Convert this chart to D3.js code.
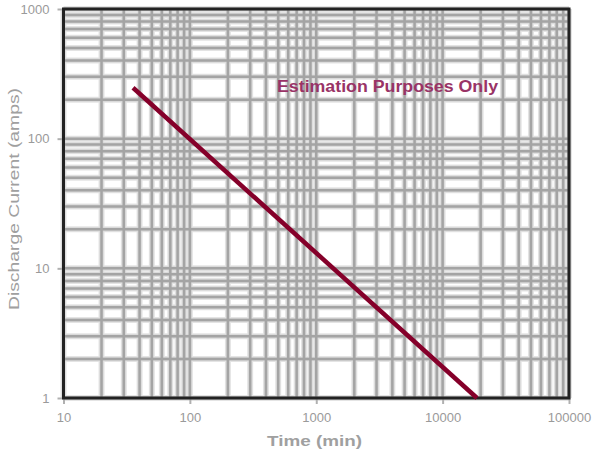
<!DOCTYPE html>
<html>
<head>
<meta charset="utf-8">
<script src="https://cdn.jsdelivr.net/npm/d3@7"></script>
<style>
html,body{margin:0;padding:0;background:#fff;}
svg{display:block;font-family:"Liberation Sans",Arial,sans-serif;}
</style>
</head>
<body>
<svg id="chart" width="592" height="450"></svg>
<script>
// ---- data ----
const timeMin = [35.5, 18700];      // minutes
const currentAmps = [247, 1];       // amps
const xTickValues = [10, 100, 1000, 10000, 100000];
const yTickValues = [1, 10, 100, 1000];
const xDomain = [10, 100000];
const yDomain = [1, 1000];
const annotation = "Estimation Purposes Only";
const xTitle = "Time (min)";
const yTitle = "Discharge Current (amps)";

// ---- layout ----
const svg = d3.select("#chart");
const L = 63.5, R = 569, T = 9, B = 398;
const x = d3.scaleLog().domain(xDomain).range([L, R]);
const y = d3.scaleLog().domain(yDomain).range([B, T]);

// minor + major grid values
function logGrid(dom) {
  const v = [];
  for (let d = dom[0]; d < dom[1]; d *= 10) {
    for (let k = 1; k < 10; k++) v.push(d * k);
  }
  v.push(dom[1]);
  return v;
}
const xg = logGrid(xDomain), yg = logGrid(yDomain);

const grid = svg.append("g");
// soft halo layer
grid.selectAll("line.vh").data(xg).join("line")
  .attr("x1", d => x(d)).attr("x2", d => x(d)).attr("y1", T).attr("y2", B)
  .attr("stroke", "#e4e4e4").attr("stroke-width", 6);
grid.selectAll("line.hh").data(yg).join("line")
  .attr("y1", d => y(d)).attr("y2", d => y(d)).attr("x1", L).attr("x2", R)
  .attr("stroke", "#e4e4e4").attr("stroke-width", 6);
grid.selectAll("line.vm").data(xg).join("line")
  .attr("x1", d => x(d)).attr("x2", d => x(d)).attr("y1", T).attr("y2", B)
  .attr("stroke", "#d0d0d0").attr("stroke-width", 4).attr("opacity", 0.6);
grid.selectAll("line.hm").data(yg).join("line")
  .attr("y1", d => y(d)).attr("y2", d => y(d)).attr("x1", L).attr("x2", R)
  .attr("stroke", "#d0d0d0").attr("stroke-width", 4).attr("opacity", 0.6);
grid.selectAll("line.v").data(xg).join("line")
  .attr("x1", d => x(d)).attr("x2", d => x(d)).attr("y1", T).attr("y2", B)
  .attr("stroke", "#a4a4a4").attr("stroke-width", 2.5);
grid.selectAll("line.h").data(yg).join("line")
  .attr("y1", d => y(d)).attr("y2", d => y(d)).attr("x1", L).attr("x2", R)
  .attr("stroke", "#a4a4a4").attr("stroke-width", 2.5);

// axes (ticks + labels)
const xAxis = d3.axisBottom(x).tickValues(xTickValues).tickFormat(d3.format("d"))
  .tickSize(6).tickPadding(9);
const yAxis = d3.axisLeft(y).tickValues(yTickValues).tickFormat(d3.format("d"))
  .tickSize(6).tickPadding(6);
const gx = svg.append("g").attr("transform", `translate(0,${B})`).call(xAxis);
const gy = svg.append("g").attr("transform", `translate(${L},0)`).call(yAxis);
[gx, gy].forEach(g => {
  g.select(".domain").remove();
  g.selectAll(".tick line").attr("stroke", "#b0b0b0").attr("stroke-width", 2);
  g.selectAll(".tick text").attr("fill", "#9a9a9a").attr("font-size", 13);
});
gy.selectAll(".tick text").attr("dx", -2);

// frame
svg.append("rect").attr("x", L).attr("y", T).attr("width", R - L).attr("height", B - T)
  .attr("fill", "none").attr("stroke", "#222").attr("stroke-width", 3);

// data line
svg.append("path")
  .datum(timeMin.map((t, i) => [t, currentAmps[i]]))
  .attr("d", d3.line().x(d => x(d[0])).y(d => y(d[1])))
  .attr("fill", "none").attr("stroke", "#85002a").attr("stroke-width", 4.5);

// annotation
svg.append("text").attr("x", 277).attr("y", 92)
  .attr("font-size", 16).attr("font-weight", "bold").attr("fill", "#993366")
  .attr("textLength", 221).attr("lengthAdjust", "spacingAndGlyphs")
  .text(annotation);

// axis titles
svg.append("text").attr("x", 267).attr("y", 446)
  .attr("font-size", 15).attr("font-weight", "bold").attr("fill", "#a0a0a0")
  .attr("textLength", 95).attr("lengthAdjust", "spacingAndGlyphs")
  .text(xTitle);
svg.append("text").attr("transform", "translate(19,310) rotate(-90)")
  .attr("font-size", 15).attr("fill", "#a0a0a0")
  .attr("textLength", 222).attr("lengthAdjust", "spacingAndGlyphs")
  .text(yTitle);
</script>
</body>
</html>
